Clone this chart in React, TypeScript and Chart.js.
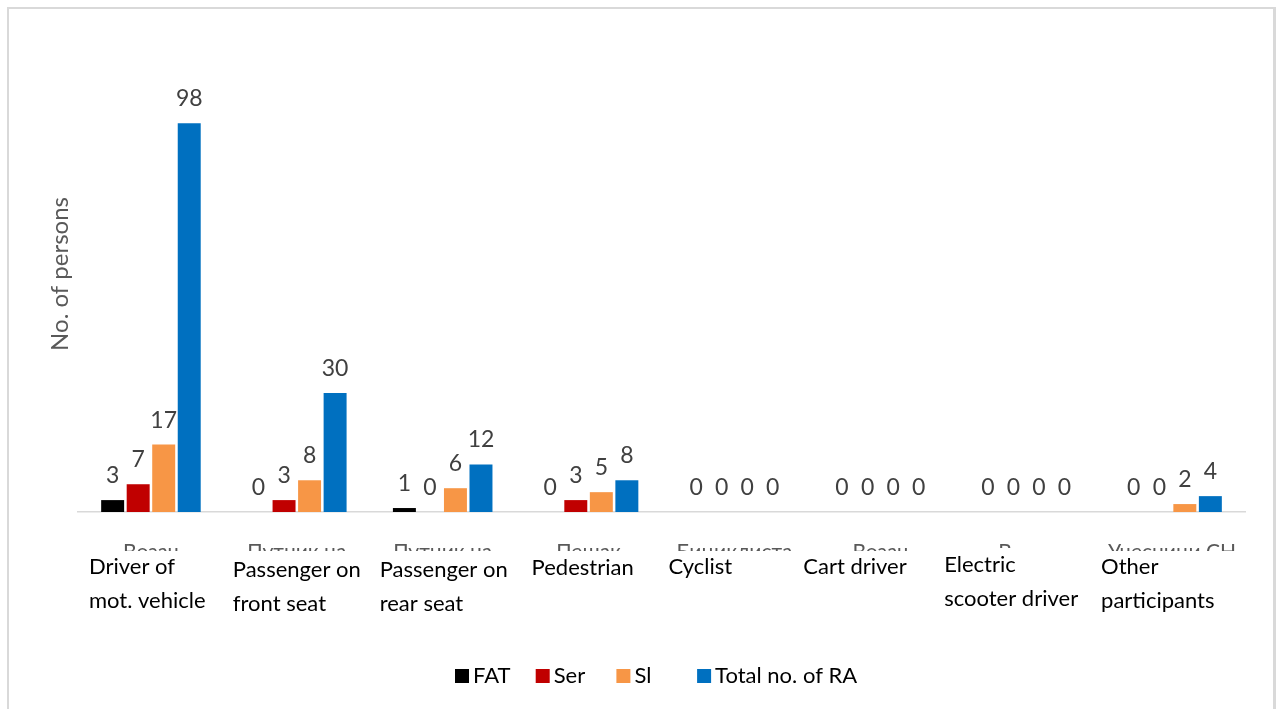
import React, { useEffect, useRef } from "react";
import { Chart, registerables } from "chart.js";

Chart.register(...registerables);

// ---- data ----
const categoriesSr: string[] = [
  "Возач",
  "Путник на",
  "Путник на",
  "Пешак",
  "Бициклиста",
  "Возач",
  "Возач",
  "Учесници СН",
];
const categoriesEn: string[][] = [
  ["Driver of", "mot. vehicle"],
  ["Passenger on", "front seat"],
  ["Passenger on", "rear seat"],
  ["Pedestrian"],
  ["Cyclist"],
  ["Cart driver"],
  ["Electric", "scooter driver"],
  ["Other", "participants"],
];
const seriesNames: string[] = ["FAT", "Ser", "Sl", "Total no. of RA"];
const fatalities: number[] = [3, 0, 1, 0, 0, 0, 0, 0];
const seriousInjuries: number[] = [7, 3, 0, 3, 0, 0, 0, 0];
const slightInjuries: number[] = [17, 8, 6, 5, 0, 0, 0, 2];
const totalRA: number[] = [98, 30, 12, 8, 0, 0, 0, 4];
const yAxisMax = 120;
const yAxisTitle = "No. of persons";

const seriesColors = ["#000000", "#C00000", "#F79646", "#0070C0"];
const FONT = "Lato, 'Open Sans', sans-serif";

export default function App() {
  const ref = useRef<HTMLCanvasElement | null>(null);

  useEffect(() => {
    if (!ref.current) return;

    const overlayPlugin = {
      id: "overlay",
      afterDatasetsDraw(chart: any) {
        const ctx = chart.ctx;
        ctx.save();
        ctx.font = `23px ${FONT}`;
        ctx.fillStyle = "#404040";
        ctx.textAlign = "center";
        ctx.textBaseline = "alphabetic";
        chart.data.datasets.forEach((ds: any, di: number) => {
          const meta = chart.getDatasetMeta(di);
          meta.data.forEach((el: any, i: number) => {
            ctx.fillText(String(ds.data[i]), el.x, el.y - 17);
          });
        });
        ctx.restore();
      },
      afterDraw(chart: any) {
        const ctx = chart.ctx;
        const xs = chart.scales.x;
        ctx.save();
        // white text boxes covering the original category labels
        ctx.fillStyle = "#ffffff";
        ctx.fillRect(xs.left, 551, xs.right - xs.left + 10, 80);
        ctx.fillRect(xs.getPixelForValue(6) - 40, 548, 90, 4);
        // English labels
        const offsets = [-62, -64, -63, -57, -66, -77, -82, -71];
        const firstLineY = [567, 570, 570, 568, 567, 567, 565, 567];
        ctx.font = `22px ${FONT}`;
        ctx.fillStyle = "#000000";
        ctx.textAlign = "left";
        ctx.textBaseline = "middle";
        categoriesEn.forEach((lines, i) => {
          const x = xs.getPixelForValue(i) + offsets[i];
          lines.forEach((t, li) => {
            ctx.fillText(t, x, firstLineY[i] + li * 34);
          });
        });
        // legend
        const cx = chart.width / 2;
        const start = cx - 183;
        const step = 80.7;
        ctx.font = `22px ${FONT}`;
        ctx.textBaseline = "alphabetic";
        seriesNames.forEach((name, i) => {
          const bx = start + i * step;
          ctx.fillStyle = seriesColors[i];
          ctx.fillRect(bx, 669, 14, 14);
          ctx.fillStyle = "#000000";
          ctx.fillText(name, bx + 18, 683);
        });
        ctx.restore();
      },
    };

    const chart = new Chart(ref.current, {
      type: "bar",
      data: {
        labels: categoriesSr,
        datasets: [
          { label: seriesNames[0], data: fatalities, backgroundColor: seriesColors[0] },
          { label: seriesNames[1], data: seriousInjuries, backgroundColor: seriesColors[1] },
          { label: seriesNames[2], data: slightInjuries, backgroundColor: seriesColors[2] },
          { label: seriesNames[3], data: totalRA, backgroundColor: seriesColors[3] },
        ],
      },
      options: {
        responsive: false,
        animation: false,
        datasets: { bar: { categoryPercentage: 0.7, barPercentage: 0.9 } },
        layout: { padding: { left: 0, top: 36, right: 31, bottom: 0 } },
        plugins: {
          legend: { display: false },
          tooltip: { enabled: false },
        },
        scales: {
          x: {
            grid: { display: false, drawTicks: false },
            border: { display: true, color: "#d9d9d9", width: 1.5 },
            ticks: {
              color: "#595959",
              font: { family: FONT, size: 21 },
              padding: 28,
              maxRotation: 0,
              autoSkip: false,
            },
            afterFit: (s: any) => {
              s.height = 197;
            },
          },
          y: {
            min: 0,
            max: yAxisMax,
            grid: { display: false, drawTicks: false },
            border: { display: false },
            ticks: { display: false },
            title: {
              display: true,
              text: yAxisTitle,
              color: "#595959",
              font: { family: FONT, size: 24, weight: "normal" },
              padding: { top: 46, bottom: 0 },
            },
            afterFit: (s: any) => {
              s.width = 78;
            },
          },
        },
      },
      plugins: [overlayPlugin],
    });

    return () => chart.destroy();
  }, []);

  return (
    <div
      style={{
        position: "fixed",
        left: 0,
        top: 0,
        width: 1276,
        height: 709,
        background: "#ffffff",
        overflow: "hidden",
      }}
    >
      <div
        style={{
          position: "absolute",
          left: 7,
          top: 7,
          width: 1269,
          height: 760,
          boxSizing: "border-box",
          border: "2px solid #d9d9d9",
          borderRightWidth: 3,
        }}
      />
      <canvas
        ref={ref}
        width={1276}
        height={709}
        style={{ position: "absolute", left: 0, top: 0, width: 1276, height: 709 }}
      />
    </div>
  );
}
